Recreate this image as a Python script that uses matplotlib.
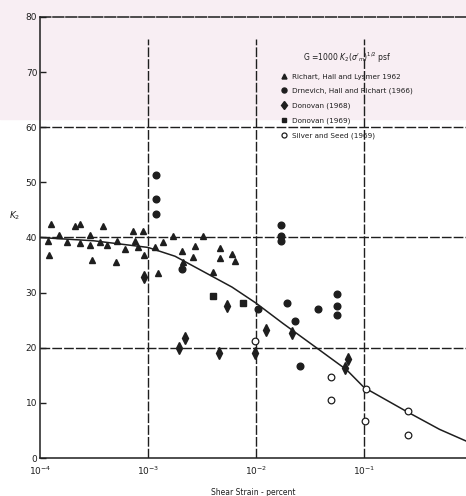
import matplotlib.pyplot as plt
from matplotlib.patches import Rectangle

# Richart, Hall and Lysmer (1962) - triangles
tri_strain = [1.26e-4, 1.19e-4, 1.21e-4, 1.51e-4, 1.79e-4, 2.11e-4, 2.34e-4, 2.34e-4,
              2.90e-4, 2.90e-4, 3.01e-4, 3.59e-4, 3.86e-4, 4.15e-4, 5.02e-4, 5.13e-4,
              6.12e-4, 7.31e-4, 7.59e-4, 8.14e-4, 8.93e-4, 9.18e-4, 1.16e-3, 1.25e-3,
              1.39e-3, 1.71e-3, 2.05e-3, 2.10e-3, 2.72e-3, 2.59e-3, 3.25e-3, 4.02e-3,
              4.64e-3, 4.64e-3, 5.95e-3, 6.39e-3]
tri_k = [42.5, 39.3, 36.9, 40.5, 39.1, 42.0, 42.5, 39.0,
         40.5, 38.7, 35.9, 39.1, 42.0, 38.7, 35.6, 39.3,
         38.0, 41.2, 39.4, 38.3, 41.2, 36.9, 38.2, 33.6,
         39.1, 40.3, 37.5, 35.5, 38.5, 36.4, 40.3, 33.8,
         38.1, 36.2, 37.0, 35.8]

# Drnevich, Hall and Richart (1966) - filled circles
drn_strain = [1.19e-3, 1.19e-3, 1.19e-3, 1.69e-2, 1.69e-2, 1.69e-2, 5.66e-2, 5.66e-2,
              5.66e-2, 3.78e-2, 1.95e-2, 1.05e-2, 2.30e-2, 2.55e-2, 2.05e-3]
drn_k = [51.4, 47.0, 44.2, 42.3, 40.3, 39.4, 29.8, 27.5,
         26.0, 27.0, 28.1, 27.0, 24.8, 16.7, 34.3]

# Donovan (1968) - diamonds
d68_strain = [9.18e-4, 5.36e-3, 2.20e-3, 1.94e-3, 4.54e-3, 9.79e-3, 2.14e-2, 1.23e-2,
              7.16e-2, 6.67e-2]
d68_k = [32.9, 27.6, 21.8, 19.9, 19.0, 19.1, 22.6, 23.3, 17.9, 16.3]

# Donovan (1969) - squares
d69_strain = [3.97e-3, 7.62e-3]
d69_k = [29.4, 28.1]

# Silver and Seed (1969) - open circles
ss_strain = [9.79e-3, 4.94e-2, 4.94e-2, 0.104, 0.102, 0.257, 0.257]
ss_k = [21.3, 14.7, 10.6, 12.5, 6.7, 8.5, 4.2]

# average curve
curve_strain = [1e-4, 3.16e-4, 1e-3, 1.78e-3, 3.0e-3, 6.0e-3, 1e-2, 1.78e-2,
                3.4e-2, 6.9e-2, 0.1, 0.25, 0.5, 0.9]
curve_k = [40, 39.4, 38.2, 36.6, 34.2, 31.0, 28.1, 24.4,
           20.4, 16.0, 12.8, 8.4, 5.2, 3.0]

fig = plt.figure(figsize=(4.66, 4.96), dpi=100)
fig.add_artist(Rectangle((0, 0.76), 1, 0.24, transform=fig.transFigure,
                         color='#f8eef3', zorder=-5))
ax = fig.add_axes([40 / 466, 1 - 458 / 496, 426 / 466, 441 / 496])
ax.set_facecolor('none')

ink = '#1e1e1e'
ax.set_xscale('log')
ax.set_xlim(1e-4, 10 ** (-4 + 426 / 108))
ax.set_ylim(0, 80)

for v in [1e-3, 1e-2, 1e-1]:
    ax.axvline(v, ymax=0.95, color=ink, lw=1.0, ls=(0, (7, 1.5)), zorder=1)
for v in [20, 40, 60]:
    ax.axhline(v, color=ink, lw=1.0, ls=(0, (7, 1.5)), zorder=1)

ax.plot(curve_strain, curve_k, color=ink, lw=1.1, zorder=2)

ms = 4.8
ax.plot(tri_strain, tri_k, ls='none', marker='^', ms=ms, color=ink, zorder=3,
        label='Richart, Hall and Lysmer 1962')
ax.plot(drn_strain, drn_k, ls='none', marker='o', ms=ms, color=ink, zorder=3,
        label='Drnevich, Hall and Richart (1966)')
ax.plot(d68_strain, d68_k, ls='none', marker='d', ms=ms + 1, color=ink, zorder=3,
        label='Donovan (1968)')
ax.plot(d69_strain, d69_k, ls='none', marker='s', ms=ms - 0.6, color=ink, zorder=3,
        label='Donovan (1969)')
ax.plot(ss_strain, ss_k, ls='none', marker='o', ms=ms, mfc='white', mec=ink, mew=0.9,
        zorder=3, label='Silver and Seed (1969)')

ax.spines['right'].set_visible(False)
ax.spines['top'].set_linestyle((0, (7, 1.5)))
for s in ['left', 'bottom', 'top']:
    ax.spines[s].set_color(ink)
    ax.spines[s].set_linewidth(1.1)

ax.set_xticks([1e-4, 1e-3, 1e-2, 1e-1])
ax.set_xticklabels(['$10^{-4}$', '$10^{-3}$', '$10^{-2}$', '$10^{-1}$'])
ax.xaxis.set_minor_locator(plt.NullLocator())
ax.set_yticks(range(0, 81, 10))
ax.tick_params(axis='both', direction='in', length=4, width=1, color=ink,
               labelsize=6.5, labelcolor=ink, pad=2)
ax.tick_params(axis='x', length=0, pad=5)

ax.set_xlabel('Shear Strain - percent', fontsize=5.5, color=ink, labelpad=8)
ax.set_ylabel('$K_2$', rotation=0, fontsize=6.5, color=ink)
ax.yaxis.set_label_coords(-0.06, 0.535)

leg = ax.legend(loc='upper left', bbox_to_anchor=(0.56, 0.93), frameon=False,
                fontsize=5.2, handlelength=0.8, handletextpad=0.6, labelspacing=1.15,
                markerscale=0.75, borderaxespad=0,
                title="G =1000 $K_2(\\sigma'_m)^{1/2}$ psf", title_fontsize=5.5)
leg.get_title().set_color(ink)
for t in leg.get_texts():
    t.set_color(ink)

fig.savefig('out.png', dpi=100)
